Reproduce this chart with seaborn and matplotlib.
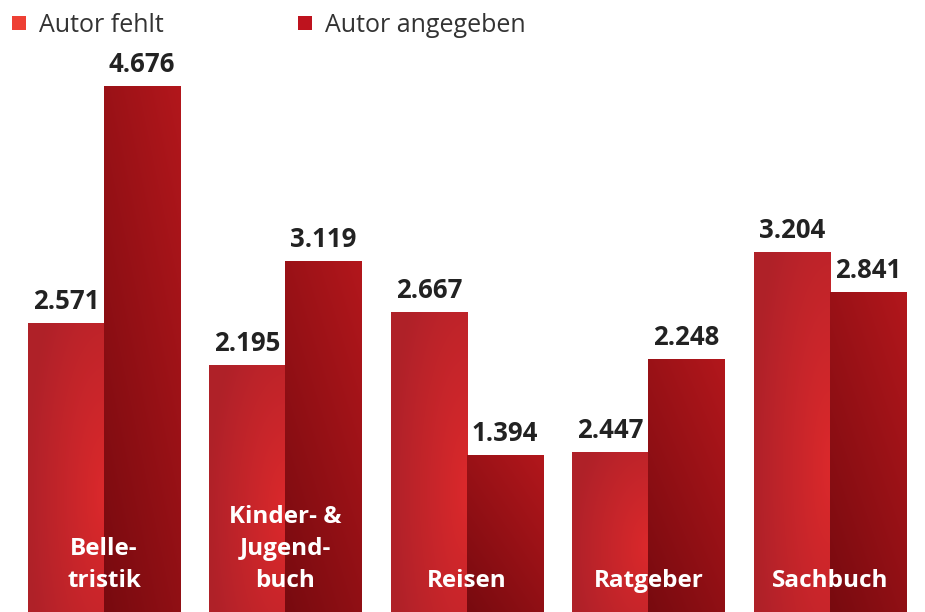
import numpy as np
import pandas as pd
import matplotlib.pyplot as plt
import seaborn as sns
from matplotlib.lines import Line2D

# Daten (Werte in Tausend); Balkenhöhen wie im Bild, Beschriftungen wie im Bild
categories = ['Belletristik', 'Kinder- & Jugendbuch', 'Reisen', 'Ratgeber', 'Sachbuch']
cat_labels = ['Belle-\ntristik', 'Kinder- &\nJugend-\nbuch', 'Reisen', 'Ratgeber', 'Sachbuch']
autor_fehlt = [2571, 2195, 2667, 1420, 3204]
autor_angegeben = [4676, 3119, 1394, 2248, 2841]
labels_fehlt = ['2.571', '2.195', '2.667', '2.447', '3.204']
labels_angegeben = ['4.676', '3.119', '1.394', '2.248', '2.841']
series = ['Autor fehlt', 'Autor angegeben']

df = pd.DataFrame({
    'Kategorie': categories * 2,
    'Serie': [series[0]] * 5 + [series[1]] * 5,
    'Wert': autor_fehlt + autor_angegeben,
})

sns.set_style('white')
plt.rcParams['font.family'] = ['Open Sans', 'DejaVu Sans']

fig = plt.figure(figsize=(9.25, 6.12), dpi=100)
ax = fig.add_axes([0, 0, 1, 1])

sns.barplot(data=df, x='Kategorie', y='Wert', hue='Serie', hue_order=series,
            palette=['#d32a2c', '#9a1118'], width=0.838, legend=False, ax=ax,
            linewidth=0, saturation=1)

XLIM = (-104 / 181.5, (925 - 104) / 181.5)
YLIM = (0, 612 / 112.5 * 1000)


# Verläufe wie in der Vorlage: radial (hell rechts Mitte) bzw. linear (dunkel unten links)
def radial_grad(n=200):
    u = np.linspace(0, 1, n)[None, :]
    v = np.linspace(0, 1, n)[:, None]  # 0 = unten
    d = np.sqrt(((u - 1.0) / 1.0) ** 2 + ((v - 0.4) / 0.9) ** 2)
    d = np.clip(d, 0, 1)
    c0 = np.array([0.86, 0.16, 0.17])
    c1 = np.array([0.69, 0.13, 0.16])
    return c0 + (c1 - c0) * d[..., None]


def linear_grad(n=200):
    u = np.linspace(0, 1, n)[None, :]
    v = np.linspace(0, 1, n)[:, None]
    t = np.clip((u * 0.5 + v * 0.7) / 1.2, 0, 1)
    c0 = np.array([0.47, 0.04, 0.06])
    c1 = np.array([0.70, 0.09, 0.11])
    return c0 + (c1 - c0) * t[..., None]


all_labels = labels_fehlt + labels_angegeben
for i, p in enumerate(list(ax.patches)):
    x0, y0 = p.get_x(), p.get_y()
    w, h = p.get_width(), p.get_height()
    img = radial_grad() if i < 5 else linear_grad()
    im = ax.imshow(img, extent=[x0, x0 + w, y0, y0 + h], origin='lower',
                   aspect='auto', zorder=2, interpolation='bilinear')
    im.set_clip_path(p)
    ax.annotate(all_labels[i], (x0 + w / 2, h),
                xytext=(0, 10), textcoords='offset points', ha='center',
                va='baseline', fontsize=18.5, fontweight='bold', color='#222222')

ax.set_xlim(*XLIM)
ax.set_ylim(*YLIM)
ax.axis('off')

for i, lab in enumerate(cat_labels):
    ax.text(i, 25 / 112.5 * 1000, lab, ha='center', va='baseline',
            multialignment='center', fontsize=17.5, fontweight='bold',
            color='white', linespacing=1.45, zorder=5)

handles = [Line2D([], [], marker='s', linestyle='none', markersize=10,
                  markerfacecolor=c, markeredgewidth=0)
           for c in ['#ee4034', '#be131e']]
fig.legend(handles, series, loc='upper left', bbox_to_anchor=(0.0, 1 - 3 / 612),
           ncol=2, frameon=False, fontsize=18, handlelength=0.7,
           handletextpad=0.45, borderaxespad=0, columnspacing=5.3,
           labelcolor='#333333')

fig.savefig('out.png', dpi=100)
